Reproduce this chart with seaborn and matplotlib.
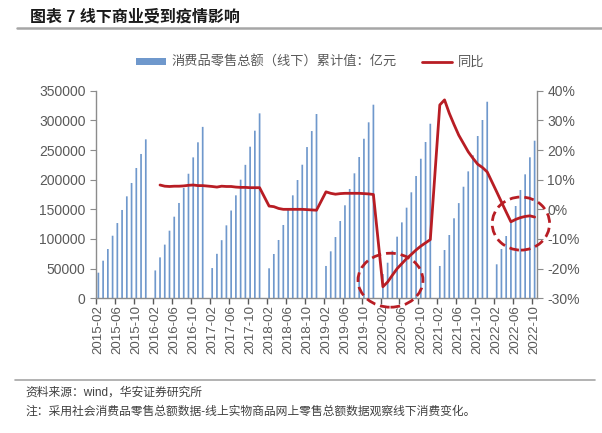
import numpy as np
import pandas as pd
import matplotlib
matplotlib.use('Agg')
import matplotlib.pyplot as plt
import seaborn as sns
from matplotlib.patches import Ellipse, Patch
from matplotlib.lines import Line2D

# offline retail sales, cumulative (亿元), Feb..Dec each year (Jan has no data)
offline_2015 = [43200, 63400, 83100, 105500, 126900, 148900, 171900, 194400, 219700, 243300, 268000]
offline_2016 = [47000, 69000, 90500, 114000, 137600, 160700, 186000, 210000, 237600, 263000, 289000]
offline_2017 = [51000, 75000, 98000, 123000, 148000, 173600, 200000, 225000, 255600, 282600, 311800]
offline_2018 = [50600, 74700, 98300, 123600, 150000, 173600, 199400, 225200, 255000, 282000, 310700]
offline_2019 = [54500, 79200, 103300, 130300, 156800, 184300, 210700, 238200, 269000, 296700, 326400]
offline_2020 = [40900, 60000, 80300, 103900, 128000, 152800, 178700, 206200, 235300, 263500, 294300]
offline_2021 = [54500, 81400, 106700, 134900, 160500, 188100, 214000, 241000, 273600, 300600, 331400]
offline_2022 = [57300, 83100, 105000, 129000, 155600, 182600, 209000, 237700, 265700]  # Feb..Oct

# YoY (%), Feb..Dec each year; 2016-02 has no value
yoy_2016 = [np.nan, 8.2, 7.8, 7.7, 7.8, 7.8, 7.9, 8.1, 8.2, 8.0, 8.0]
yoy_2017 = [7.7, 7.5, 7.8, 7.7, 7.7, 7.5, 7.4, 7.4, 7.3, 7.3, 7.3]
yoy_2018 = [1.1, 0.9, 0.3, 0.0, 0.0, 0.0, 0.0, 0.0, -0.1, -0.2, -0.3]
yoy_2019 = [5.9, 5.4, 5.1, 5.3, 5.4, 5.4, 5.4, 5.4, 5.3, 5.2, 5.0]
yoy_2020 = [-26.1, -24.5, -22.2, -20.0, -18.3, -16.6, -15.2, -13.7, -12.4, -11.3, -10.2]
yoy_2021 = [35.2, 36.9, 32.4, 28.6, 25.0, 22.2, 19.4, 17.2, 15.2, 14.1, 12.6]
yoy_2022 = [5.9, 2.5, -0.9, -4.2, -3.4, -2.8, -2.4, -2.2, -2.6]

years = [2015, 2016, 2017, 2018, 2019, 2020, 2021, 2022]
offline_by_year = [offline_2015, offline_2016, offline_2017, offline_2018,
                   offline_2019, offline_2020, offline_2021, offline_2022]
yoy_by_year = [[np.nan] * 11, yoy_2016, yoy_2017, yoy_2018, yoy_2019, yoy_2020, yoy_2021, yoy_2022]

rows = []
for yr, vals, yy in zip(years, offline_by_year, yoy_by_year):
    if yr > 2015:
        rows.append((f'{yr}-01', np.nan, np.nan))
    for k, (v, p) in enumerate(zip(vals, yy)):
        rows.append((f'{yr}-{k + 2:02d}', v, p))
df = pd.DataFrame(rows, columns=['month', 'offline', 'yoy'])
df['pos'] = np.arange(len(df))
months = df['month'].tolist()

bar_color = '#6F98CC'
line_color = '#B81D24'
txt_color = '#595959'

sns.set_style('white')
plt.rcParams['font.family'] = ['Liberation Sans', 'Noto Sans CJK SC']
plt.rcParams['axes.unicode_minus'] = False

fig = plt.figure(figsize=(6.02, 4.33), dpi=100)
ax = fig.add_axes([96 / 602, 1 - 298.3 / 433, 441 / 602, (298.3 - 90.7) / 433])

sns.barplot(data=df, x='month', y='offline', order=months, color=bar_color,
            width=0.36, saturation=1, ax=ax)
for p in ax.patches:
    p.set_snap(False)
    p.set_linewidth(0)
ax.set_ylim(0, 350000)
ax.set_yticks(np.arange(0, 350001, 50000))
ax.set_yticklabels([f'{v}' for v in range(0, 350001, 50000)])

ax2 = ax.twinx()
line_df = df.dropna(subset=['yoy'])
sns.lineplot(data=line_df, x='pos', y='yoy', color=line_color, linewidth=2.0, ax=ax2)
ax2.set_ylim(-30, 40)
ax2.set_yticks(np.arange(-30, 41, 10))
ax2.set_yticklabels([f'{v}%' for v in range(-30, 41, 10)])

for a in (ax, ax2):
    a.set_xlim(-0.5, len(df) - 0.5)
    a.set_xlabel('')
    a.set_ylabel('')
    for s in ['left', 'right', 'bottom', 'top']:
        a.spines[s].set_visible(False)

ax.spines['left'].set_visible(True)
ax.spines['bottom'].set_visible(True)
ax2.spines['right'].set_visible(True)
for sp in (ax.spines['left'], ax.spines['bottom'], ax2.spines['right']):
    sp.set_color('#8C8C8C')
    sp.set_linewidth(1.0)

label_pos = list(range(0, len(df), 4))
ax.set_xticks(label_pos)
ax.set_xticklabels([months[i] for i in label_pos], rotation=90, fontsize=9.5, color=txt_color)
ax.set_xticks(np.arange(-0.5, len(df), 4), minor=True)
ax.tick_params(axis='x', which='major', length=0, pad=5, bottom=True)
ax.tick_params(axis='x', which='minor', length=4, color='#595959', width=1, bottom=True)
ax.tick_params(axis='y', length=4, color='#8C8C8C', labelsize=10, labelcolor=txt_color, left=True)
ax2.tick_params(axis='y', length=4, color='#8C8C8C', labelsize=10, labelcolor=txt_color, right=True)

# dashed highlight ellipses
for cx, cy, w, h in [(61.6, -23.9, 13.7, 18.2), (89.1, -4.8, 12.1, 17.9)]:
    e = Ellipse((cx, cy), w, h, fill=False, edgecolor=line_color, linewidth=2.0,
                linestyle=(0, (3.5, 1.8)), clip_on=False, zorder=5)
    ax2.add_patch(e)

handles = [Patch(facecolor=bar_color, edgecolor='none'),
           Line2D([0], [0], color=line_color, linewidth=2.0)]
fig.legend(handles, ['消费品零售总额（线下）累计值：亿元', '同比'], loc='center',
           bbox_to_anchor=(310 / 602, 1 - 62.7 / 433), ncol=2, frameon=False,
           fontsize=9.5, handlelength=2.3, handleheight=0.45, handletextpad=0.4,
           columnspacing=1.9, labelcolor=txt_color)

fig.text(30 / 602, 1 - 17 / 433, '图表 7 线下商业受到疫情影响', fontsize=11.5,
         fontweight='bold', va='center', ha='left', color='#1a1a1a')
fig.add_artist(Line2D([17 / 602, 1.0], [1 - 28 / 433] * 2, color='#A6A6A6', linewidth=1.8))
fig.add_artist(Line2D([15 / 602, 595 / 602], [1 - 380 / 433] * 2, color='#A6A6A6', linewidth=1.2))
fig.text(25 / 602, 1 - 393 / 433, '资料来源：wind，华安证券研究所', fontsize=8.5,
         va='center', ha='left', color='#404040')
fig.text(25 / 602, 1 - 412 / 433, '注：采用社会消费品零售总额数据-线上实物商品网上零售总额数据观察线下消费变化。',
         fontsize=8.5, va='center', ha='left', color='#404040')

fig.savefig('out.png', dpi=100)
